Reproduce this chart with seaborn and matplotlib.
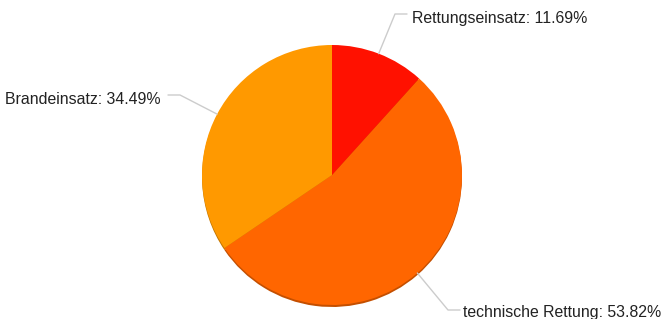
import numpy as np
import matplotlib
matplotlib.use('Agg')
import matplotlib.pyplot as plt
import seaborn as sns

categories = ['Rettungseinsatz', 'technische Rettung', 'Brandeinsatz']
shares = [11.69, 53.82, 34.49]
colors = ['#ff1100', '#ff6600', '#ff9900']
shadow_colors = ['#c40d00', '#c44f00', '#c47600']

sns.set_theme(style='white')
plt.rcParams['font.family'] = ['Liberation Sans', 'DejaVu Sans']

W, H = 663, 319
fig = plt.figure(figsize=(W / 100, H / 100), dpi=100)
ax = fig.add_axes([0, 0, 1, 1])

cx, cy, r = 332, H - 175, 130

# soft shadow under the pie
ax.pie(shares, colors=shadow_colors, startangle=90, counterclock=False,
       center=(cx, cy - 2), radius=r, wedgeprops=dict(linewidth=0), frame=True)
ax.pie(shares, colors=colors, startangle=90, counterclock=False,
       center=(cx, cy), radius=r, wedgeprops=dict(linewidth=0), frame=True)
ax.set_xlim(0, W)
ax.set_ylim(0, H)
ax.set_aspect('equal')
ax.axis('off')

# label layout: elbow point, end of line, text anchor, alignment
layout = [
    ((395, H - 14), (407, H - 14), (412, H - 18), 'left'),
    ((448, H - 310), (460, H - 310), (463, H - 312), 'left'),
    ((180, H - 95), (168, H - 95), (161, H - 99), 'right'),
]

cum = 0
for name, val, (elbow, end, txt, ha) in zip(categories, shares, layout):
    mid = cum + val / 2
    cum += val
    ang = np.deg2rad(90 - mid / 100 * 360)
    px, py = cx + r * np.cos(ang), cy + r * np.sin(ang)
    ax.plot([px, elbow[0], end[0]], [py, elbow[1], end[1]], color='#cccccc', lw=1)
    ax.text(txt[0], txt[1], f'{name}: {val:.2f}%', ha=ha, va='center',
            fontsize=11.4, color='#222222')

fig.savefig('out.png', dpi=100)
